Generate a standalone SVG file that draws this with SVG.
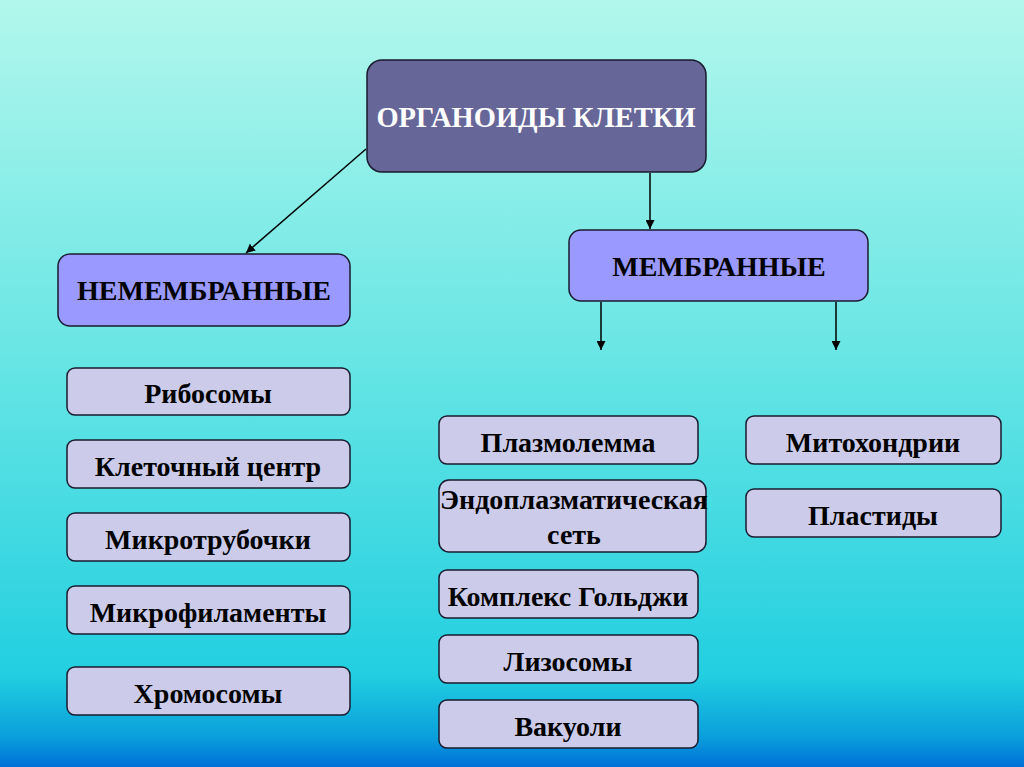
<svg xmlns="http://www.w3.org/2000/svg" width="1024" height="767" viewBox="0 0 1024 767">
<defs>
<linearGradient id="bg" x1="0" y1="0" x2="0" y2="1">
<stop offset="0" stop-color="#b2f7ec"/>
<stop offset="0.5" stop-color="#62e4e4"/>
<stop offset="0.88" stop-color="#22cfe0"/>
<stop offset="0.96" stop-color="#0aa0dc"/>
<stop offset="1" stop-color="#0070d8"/>
</linearGradient>
<marker id="ah" viewBox="0 0 10 10" refX="10" refY="5" markerWidth="9" markerHeight="9" markerUnits="userSpaceOnUse" orient="auto">
<path d="M0,0 L10,5 L0,10 Z" fill="#000"/>
</marker>
</defs>
<style>
.box{stroke:#1a1a2e;stroke-width:1.5}
.top{fill:#666699}
.cat{fill:#9999ff}
.item{fill:#ccccea}
text{font-family:"Liberation Serif","Times New Roman",serif;font-weight:bold;text-anchor:middle;fill:#000}
.t{font-size:28px}
.h{font-size:28px}
.w{fill:#fff;font-size:28.5px}
.c{stroke:#000;stroke-width:1.5;fill:none;marker-end:url(#ah)}
</style>
<rect width="1024" height="767" fill="url(#bg)"/>
<g id="connectors">
<line class="c" x1="366" y1="149" x2="246" y2="253"/>
<line class="c" x1="650" y1="173" x2="650" y2="229"/>
<line class="c" x1="601" y1="302" x2="601" y2="350"/>
<line class="c" x1="836" y1="302" x2="836" y2="350"/>
</g>
<g id="root"><rect class="box top" x="367" y="60" width="339" height="112" rx="15"/><text class="w" x="536" y="127">ОРГАНОИДЫ КЛЕТКИ</text></g>
<g id="nonmembrane"><rect class="box cat" x="58" y="254" width="292" height="72" rx="12"/><text class="h" x="204" y="300">НЕМЕМБРАННЫЕ</text></g>
<g id="membrane"><rect class="box cat" x="569" y="230" width="299" height="71" rx="12"/><text class="h" x="719" y="276">МЕМБРАННЫЕ</text></g>
<g id="ribosomes"><rect class="box item" x="67" y="368" width="283" height="47" rx="8"/><text class="t" x="208" y="403">Рибосомы</text></g>
<g id="cellcenter"><rect class="box item" x="67" y="440" width="283" height="48" rx="8"/><text class="t" x="208" y="476">Клеточный центр</text></g>
<g id="microtubules"><rect class="box item" x="67" y="513" width="283" height="48" rx="8"/><text class="t" x="208" y="549">Микротрубочки</text></g>
<g id="microfilaments"><rect class="box item" x="67" y="586" width="283" height="48" rx="8"/><text class="t" x="208" y="622">Микрофиламенты</text></g>
<g id="chromosomes"><rect class="box item" x="67" y="667" width="283" height="48" rx="8"/><text class="t" x="208" y="703">Хромосомы</text></g>
<g id="plasmalemma"><rect class="box item" x="439" y="416" width="259" height="48" rx="8"/><text class="t" x="568" y="452">Плазмолемма</text></g>
<g id="er"><rect class="box item" x="439" y="480" width="267" height="72" rx="10"/><text class="t" x="574" y="509">Эндоплазматическая</text><text class="t" x="574" y="544">сеть</text></g>
<g id="golgi"><rect class="box item" x="439" y="570" width="259" height="48" rx="8"/><text class="t" x="568" y="606">Комплекс Гольджи</text></g>
<g id="lysosomes"><rect class="box item" x="439" y="635" width="259" height="48" rx="8"/><text class="t" x="568" y="671">Лизосомы</text></g>
<g id="vacuoles"><rect class="box item" x="439" y="700" width="259" height="48" rx="8"/><text class="t" x="568" y="736">Вакуоли</text></g>
<g id="mitochondria"><rect class="box item" x="746" y="416" width="255" height="48" rx="8"/><text class="t" x="873" y="452">Митохондрии</text></g>
<g id="plastids"><rect class="box item" x="746" y="489" width="255" height="48" rx="8"/><text class="t" x="873" y="525">Пластиды</text></g>
</svg>
